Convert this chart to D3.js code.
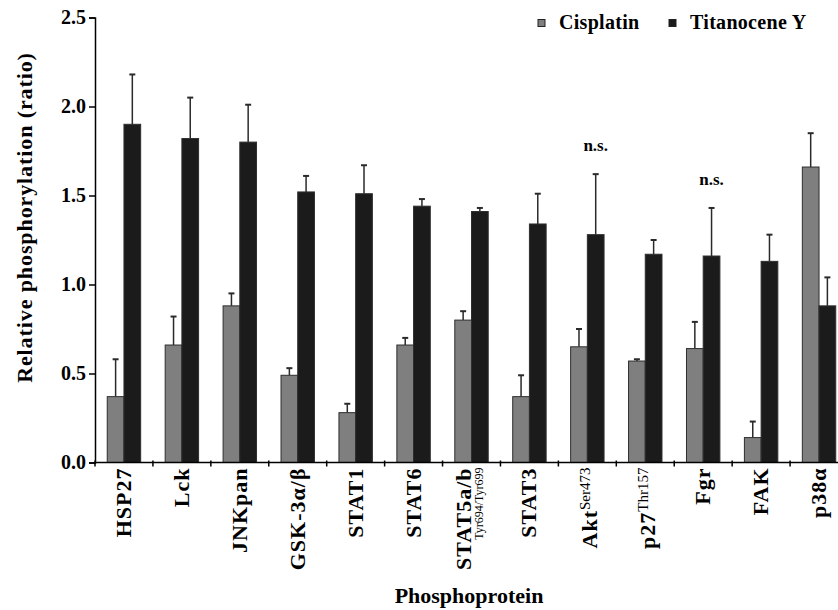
<!DOCTYPE html>
<html>
<head>
<meta charset="utf-8">
<script src="https://cdn.jsdelivr.net/npm/d3@7"></script>
<style>
    body { margin: 0; background: #fff; }
    text { font-family: "Liberation Serif", "Times New Roman", serif; fill: #000; }
</style>
</head>
<body>
<div id="chart-area"></div>
<script>
// categories on the x axis
const categories = ["HSP27", "Lck", "JNKpan", "GSK-3α/β", "STAT1", "STAT6", "STAT5a/b",
    "STAT3", "Akt", "p27", "Fgr", "FAK", "p38α"];
// superscripts and second lines of some labels
const superLabels = {"Akt": "Ser473", "p27": "Thr157"};
const subLines = {"STAT5a/b": "Tyr694/Tyr699"};

const seriesNames = ["Cisplatin", "Titanocene Y"];
const cisplatin = [0.37, 0.66, 0.88, 0.49, 0.28, 0.66, 0.80, 0.37, 0.65, 0.57, 0.64, 0.14, 1.66];
const cisplatinErr = [0.21, 0.16, 0.07, 0.04, 0.05, 0.04, 0.05, 0.12, 0.10, 0.01, 0.15, 0.09, 0.19];
const titanocene = [1.90, 1.82, 1.80, 1.52, 1.51, 1.44, 1.41, 1.34, 1.28, 1.17, 1.16, 1.13, 0.88];
const titanoceneErr = [0.28, 0.23, 0.21, 0.09, 0.16, 0.04, 0.02, 0.17, 0.34, 0.08, 0.27, 0.15, 0.16];
// "n.s." marks above the Titanocene Y bar
const notSignificant = ["Akt", "Fgr"];

const yTicks = [0, 0.5, 1.0, 1.5, 2.0, 2.5];

let margin = {top: 17.5, left: 95};
let width = 753, height = 445;

let svg = d3.select("#chart-area").append("svg")
    .attr("width", 838)
    .attr("height", 610)
    .append("g")
    .attr("transform", "translate(" + margin.left + "," + margin.top + ")");

let x0 = d3.scaleBand()
    .domain(categories)
    .range([0, width])
    .padding(0);

let x1 = d3.scaleBand()
    .domain(seriesNames)
    .range([0, x0.bandwidth()])
    .paddingInner(0)
    .paddingOuter(0.733);

let y = d3.scaleLinear()
    .domain([0, 2.5])
    .range([height, 0]);

let color = d3.scaleOrdinal()
    .domain(seriesNames)
    .range(["#7f7f7f", "#1b1b1b"]);

// data rows
let rows = categories.map((c, i) => ({
    name: c,
    values: [
        {series: "Cisplatin", value: cisplatin[i], err: cisplatinErr[i]},
        {series: "Titanocene Y", value: titanocene[i], err: titanoceneErr[i]}
    ]
}));

let groups = svg.selectAll(".group")
    .data(rows)
    .enter().append("g")
    .attr("class", "group")
    .attr("transform", d => "translate(" + x0(d.name) + ",0)");

// error bars (drawn first so bars cover the bottom)
groups.selectAll(".err")
    .data(d => d.values)
    .enter().append("line")
    .attr("class", "err")
    .attr("x1", d => x1(d.series) + x1.bandwidth() / 2)
    .attr("x2", d => x1(d.series) + x1.bandwidth() / 2)
    .attr("y1", d => y(d.value))
    .attr("y2", d => y(d.value + d.err))
    .attr("stroke", "#2a2a2a")
    .attr("stroke-width", 1.5);

groups.selectAll(".cap")
    .data(d => d.values)
    .enter().append("line")
    .attr("class", "cap")
    .attr("x1", d => x1(d.series) + x1.bandwidth() / 2 - 3)
    .attr("x2", d => x1(d.series) + x1.bandwidth() / 2 + 3)
    .attr("y1", d => y(d.value + d.err))
    .attr("y2", d => y(d.value + d.err))
    .attr("stroke", "#2a2a2a")
    .attr("stroke-width", 2);

groups.selectAll(".bar")
    .data(d => d.values)
    .enter().append("rect")
    .attr("class", "bar")
    .attr("x", d => x1(d.series))
    .attr("width", x1.bandwidth())
    .attr("y", d => y(d.value))
    .attr("height", d => y(0) - y(d.value))
    .attr("fill", d => color(d.series))
    .attr("stroke", "#2e2e2e")
    .attr("stroke-width", 1);

// n.s. labels
groups.filter(d => notSignificant.includes(d.name))
    .append("text")
    .attr("x", x1("Titanocene Y") + x1.bandwidth() / 2)
    .attr("y", d => y(d.values[1].value + d.values[1].err) - 23)
    .attr("text-anchor", "middle")
    .attr("style", "font-size: 17px; font-weight: bold;")
    .text("n.s.");

// y axis
let yAxis = svg.append("g")
    .attr("class", "y-axis")
    .call(d3.axisLeft(y).tickValues(yTicks).tickFormat(d3.format(".1f")).tickSize(6).tickPadding(3));
yAxis.select(".domain").attr("stroke", "#000").attr("stroke-width", 1.5);
yAxis.selectAll(".tick line").attr("stroke", "#000").attr("stroke-width", 1.5);
yAxis.selectAll(".tick text")
    .attr("font-family", null)
    .attr("style", "font-size: 20px; font-weight: bold; font-family: 'Liberation Serif', serif; fill: #000;");

// x axis: line with ticks at band boundaries
let xAxis = svg.append("g")
    .attr("class", "x-axis")
    .attr("transform", "translate(0," + height + ")");
xAxis.append("line")
    .attr("x1", 0)
    .attr("x2", width)
    .attr("stroke", "#000")
    .attr("stroke-width", 1.5);
xAxis.selectAll(".xtick")
    .data(d3.range(categories.length + 1))
    .enter().append("line")
    .attr("class", "xtick")
    .attr("x1", i => i * x0.step())
    .attr("x2", i => i * x0.step())
    .attr("y1", -2)
    .attr("y2", 4)
    .attr("stroke", "#000")
    .attr("stroke-width", 1.5);

// category labels, rotated
let labels = xAxis.selectAll(".cat-label")
    .data(categories)
    .enter().append("text")
    .attr("class", "cat-label")
    .attr("transform", d => {
        let shift = superLabels[d] ? 10 : (subLines[d] ? -1 : 7);
        return "translate(" + (x0(d) + x0.bandwidth() / 2 + shift) + ",5) rotate(-90)";
    })
    .attr("text-anchor", "end")
    .attr("style", "font-size: 22px; font-weight: bold; letter-spacing: 1px;");

labels.each(function (d) {
    let t = d3.select(this);
    if (subLines[d]) {
        t.append("tspan").attr("x", 0).attr("y", 0).text(d);
        t.append("tspan").attr("x", 0).attr("y", 12)
            .attr("style", "font-size: 12px; font-weight: normal; letter-spacing: 0;")
            .text(subLines[d]);
    } else if (superLabels[d]) {
        t.append("tspan").text(d);
        t.append("tspan").attr("dy", -7)
            .attr("style", "font-size: 15px; font-weight: normal; letter-spacing: 0;")
            .text(superLabels[d]);
    } else {
        t.text(d);
    }
});

// axis titles
svg.append("text")
    .attr("transform", "translate(-63," + 200 + ") rotate(-90)")
    .attr("text-anchor", "middle")
    .attr("style", "font-size: 22px; font-weight: bold; letter-spacing: 0.9px;")
    .text("Relative phosphorylation (ratio)");

svg.append("text")
    .attr("x", 374)
    .attr("y", 585)
    .attr("text-anchor", "middle")
    .attr("style", "font-size: 22px; font-weight: bold;")
    .text("Phosphoprotein");

// legend
let legend = svg.selectAll(".legend")
    .data(seriesNames)
    .enter().append("g")
    .attr("class", "legend")
    .attr("transform", (d, i) => "translate(" + (443 + i * 131) + ",2)");

legend.append("rect")
    .attr("width", 7)
    .attr("height", 7)
    .attr("fill", d => color(d))
    .attr("stroke", "#222")
    .attr("stroke-width", 1);

legend.append("text")
    .attr("x", 21)
    .attr("y", 9.5)
    .attr("style", "font-size: 20px; font-weight: bold; letter-spacing: 0.3px;")
    .text(d => d);
</script>
</body>
</html>
